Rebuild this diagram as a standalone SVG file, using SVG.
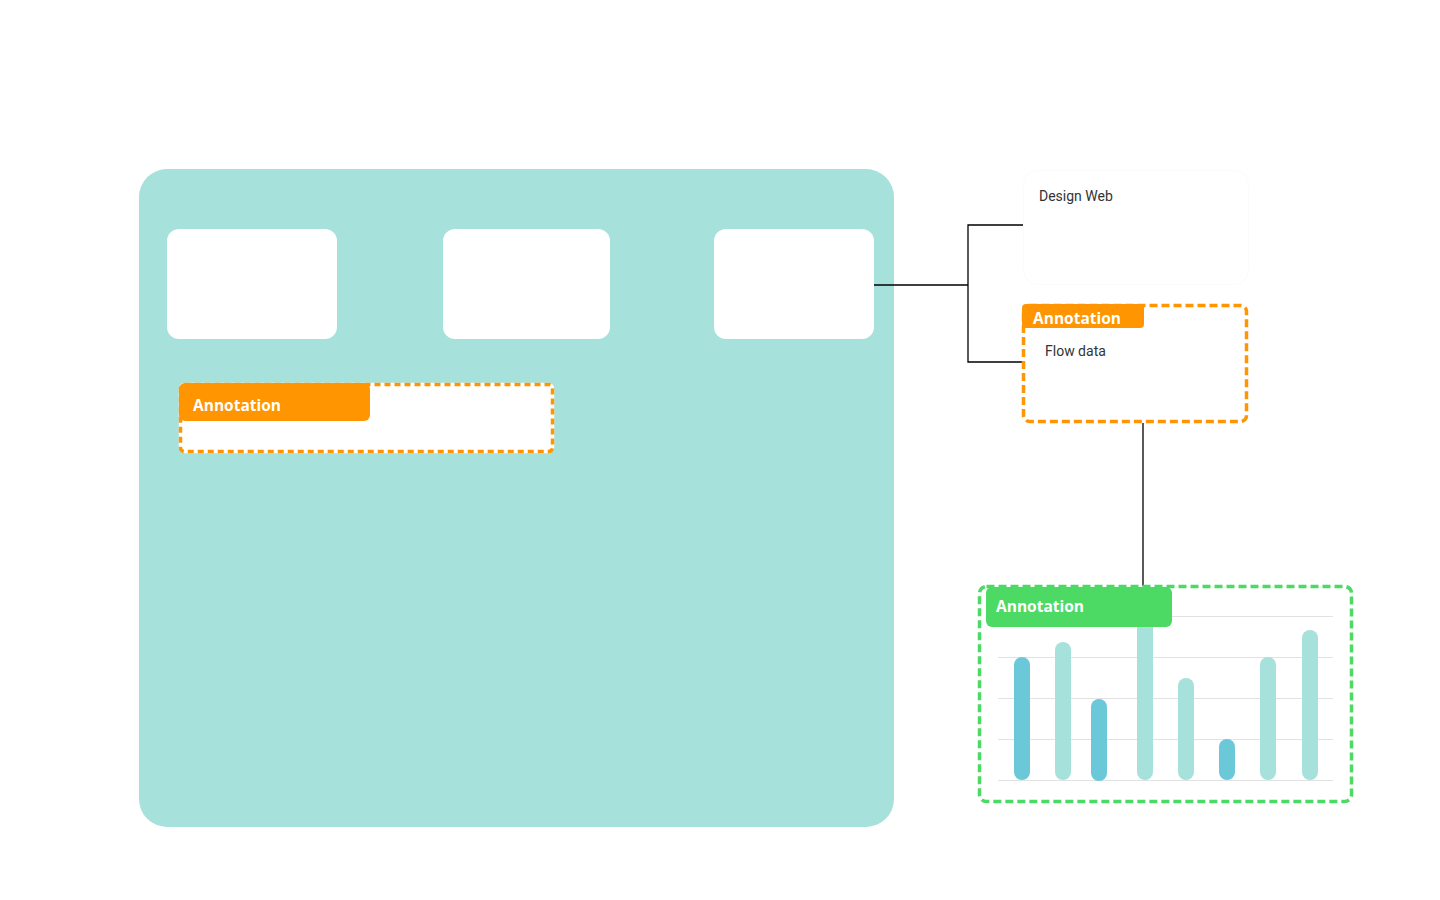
<svg xmlns="http://www.w3.org/2000/svg" width="1440" height="900" viewBox="0 0 1440 900">
<style>
.card{fill:#ffffff}
.conn{fill:none;stroke:#000000;stroke-width:1.3}
.ann-title{font-family:"Open Sans","Liberation Sans",sans-serif;font-weight:700;font-size:15.5px;fill:#ffffff}
.label{font-family:Roboto,"Liberation Sans",sans-serif;font-size:14px;fill:#333333}
.grid{stroke:#e2e2e2;stroke-width:1}
.bar{stroke-width:16;stroke-linecap:round}
.dark{stroke:#6ac8d8}
.light{stroke:#a6e1dc}
</style>
<rect width="1440" height="900" fill="#ffffff"/>
<g id="container">
<rect x="139" y="169" width="755" height="658" rx="28" fill="#a6e1dc"/>
</g>
<g id="card1"><rect class="card" x="167" y="229" width="170" height="110" rx="12"/></g>
<g id="card2"><rect class="card" x="443" y="229" width="167" height="110" rx="12"/></g>
<g id="card3"><rect class="card" x="714" y="229" width="160" height="110" rx="12"/></g>
<g id="annotation-left">
<rect x="180.5" y="384.5" width="372" height="67" rx="4" fill="#ffffff" stroke="#ffffff" stroke-width="3.5"/>
<rect x="180.5" y="384.5" width="372" height="67" rx="4" fill="none" stroke="#ff9500" stroke-width="3.5" stroke-dasharray="6 4"/>
<rect x="179" y="383" width="191" height="38" rx="6" fill="#ff9500"/>
<text class="ann-title" x="193" y="411">Annotation</text>
</g>
<g id="connectors">
<polyline class="conn" points="874,285 968,285"/>
<polyline class="conn" points="1024,225 968,225 968,362 1023,362"/>
<line class="conn" x1="1143" y1="423" x2="1143" y2="586" stroke-width="1.8"/>
</g>
<g id="design-web">
<rect x="1023.5" y="170.5" width="225" height="114" rx="14" fill="#ffffff" stroke="#fbfbfb" stroke-width="1"/>
<text class="label" x="1039" y="201">Design Web</text>
</g>
<g id="annotation-right">
<rect x="1023.5" y="305.5" width="223" height="116" rx="6" fill="#ffffff" stroke="#ff9500" stroke-width="3.5" stroke-dasharray="8 4"/>
<rect x="1022" y="304" width="122" height="24" rx="4" fill="#ff9500"/>
<text class="ann-title" x="1033" y="324">Annotation</text>
<text class="label" x="1045" y="356">Flow data</text>
</g>
<g id="annotation-chart">
<rect x="979.5" y="586.5" width="372" height="215" rx="7" fill="#ffffff" stroke="#4cd964" stroke-width="3.5" stroke-dasharray="8 4"/>
<g id="grid">
<line class="grid" x1="998" y1="616.5" x2="1333" y2="616.5"/>
<line class="grid" x1="998" y1="657.5" x2="1333" y2="657.5"/>
<line class="grid" x1="998" y1="698.5" x2="1333" y2="698.5"/>
<line class="grid" x1="998" y1="739.5" x2="1333" y2="739.5"/>
<line class="grid" x1="998" y1="780.5" x2="1333" y2="780.5"/>
</g>
<g id="bars">
<line class="bar dark" x1="1022" y1="665" x2="1022" y2="772"/>
<line class="bar light" x1="1063" y1="650" x2="1063" y2="772"/>
<line class="bar dark" x1="1099" y1="707" x2="1099" y2="773"/>
<line class="bar light" x1="1145" y1="620" x2="1145" y2="772"/>
<line class="bar light" x1="1186" y1="686" x2="1186" y2="772"/>
<line class="bar dark" x1="1227" y1="747" x2="1227" y2="772"/>
<line class="bar light" x1="1268" y1="665" x2="1268" y2="772"/>
<line class="bar light" x1="1310" y1="638" x2="1310" y2="772"/>
</g>
<rect x="986" y="587" width="186" height="40" rx="6" fill="#4cd964"/>
<text class="ann-title" x="996" y="612">Annotation</text>
</g>
</svg>
